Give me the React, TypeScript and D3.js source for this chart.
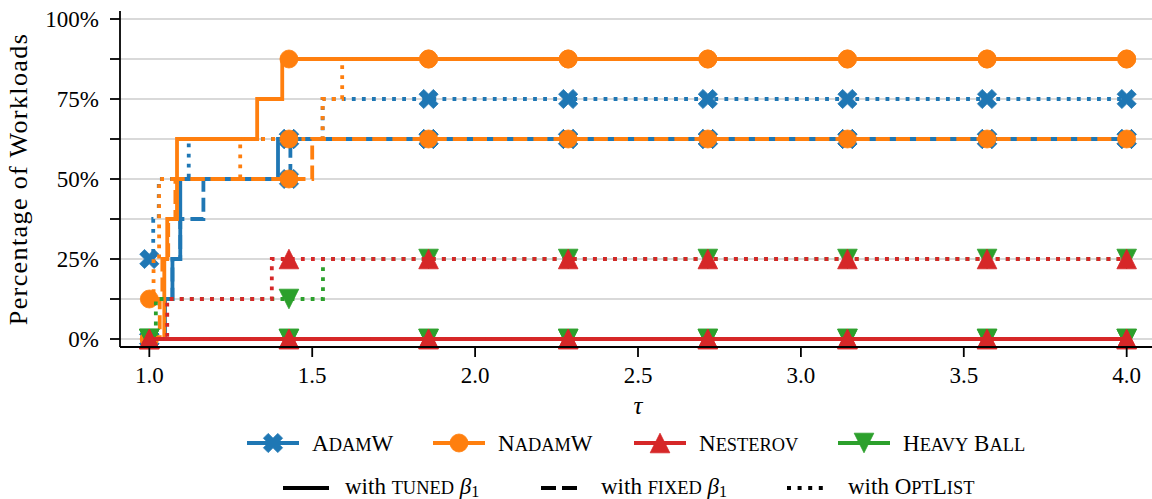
import React from "react";
import * as d3 from "d3";

const W = 1152;
const H = 499;

// τ values at which each profile carries a marker
const markerTaus = [1.0, 1.4286, 1.8571, 2.2857, 2.7143, 3.1429, 3.5714, 4.0];
const xTicks = [1.0, 1.5, 2.0, 2.5, 3.0, 3.5, 4.0];
const yMajorTicks = [0, 0.25, 0.5, 0.75, 1.0];
const yMinorTicks = [0.125, 0.375, 0.625, 0.875];
const yTickLabels = ["0%", "25%", "50%", "75%", "100%"];

// Performance profiles: [τ, fraction of workloads solved from this τ onwards]
const adamwTuned = [[1.0, 0], [1.048, 0.125], [1.071, 0.25], [1.095, 0.5], [1.395, 0.625]];
const adamwFixed = [[1.0, 0], [1.048, 0.125], [1.071, 0.25], [1.095, 0.375], [1.166, 0.5], [1.433, 0.625]];
const adamwOptList = [[1.0, 0.25], [1.012, 0.375], [1.029, 0.5], [1.121, 0.625], [1.532, 0.75]];
const nadamwTuned = [[1.0, 0], [1.046, 0.25], [1.055, 0.375], [1.085, 0.625], [1.331, 0.75], [1.408, 0.875]];
const nadamwFixed = [[1.0, 0], [1.032, 0.125], [1.04, 0.25], [1.058, 0.375], [1.08, 0.5], [1.5, 0.625]];
const nadamwOptList = [[1.0, 0.125], [1.013, 0.25], [1.03, 0.5], [1.279, 0.625], [1.532, 0.75], [1.592, 0.875]];
const nesterovTuned = [[1.0, 0]];
const nesterovFixed = [[1.0, 0]];
const nesterovOptList = [[1.0, 0], [1.055, 0.125], [1.376, 0.25]];
const heavyBallTuned = [[1.0, 0]];
const heavyBallFixed = [[1.0, 0]];
const heavyBallOptList = [[1.0, 0], [1.02, 0.125], [1.533, 0.25]];

const optimizers = ["AdamW", "NadamW", "Nesterov", "Heavy Ball"];
const variants = ["tuned", "fixed", "OptList"];

const BLUE = "#1f77b4";
const ORANGE = "#ff7f0e";
const GREEN = "#2ca02c";
const RED = "#d62728";

const LW = 3.8;
const DASH: Record<string, string | undefined> = {
  tuned: undefined,
  fixed: `${3.7 * LW} ${1.6 * LW}`,
  OptList: `${1 * LW} ${1.65 * LW}`,
};

const optStyle: Record<string, { color: string; marker: string }> = {
  AdamW: { color: BLUE, marker: "X" },
  NadamW: { color: ORANGE, marker: "o" },
  Nesterov: { color: RED, marker: "^" },
  "Heavy Ball": { color: GREEN, marker: "v" },
};

// drawing order (later on top)
const series = [
  { opt: "AdamW", variant: "tuned", steps: adamwTuned },
  { opt: "AdamW", variant: "fixed", steps: adamwFixed },
  { opt: "AdamW", variant: "OptList", steps: adamwOptList },
  { opt: "NadamW", variant: "tuned", steps: nadamwTuned },
  { opt: "NadamW", variant: "fixed", steps: nadamwFixed },
  { opt: "NadamW", variant: "OptList", steps: nadamwOptList },
  { opt: "Heavy Ball", variant: "tuned", steps: heavyBallTuned },
  { opt: "Heavy Ball", variant: "fixed", steps: heavyBallFixed },
  { opt: "Heavy Ball", variant: "OptList", steps: heavyBallOptList },
  { opt: "Nesterov", variant: "tuned", steps: nesterovTuned },
  { opt: "Nesterov", variant: "fixed", steps: nesterovFixed },
  { opt: "Nesterov", variant: "OptList", steps: nesterovOptList },
];

const FONT = "'Liberation Serif', 'Times New Roman', serif";

function xCrossPoints(half: number): string {
  const base = [
    [-1, -3], [1, -3], [1, -1], [3, -1], [3, 1], [1, 1],
    [1, 3], [-1, 3], [-1, 1], [-3, 1], [-3, -1], [-1, -1],
  ];
  const k = half / (4 / Math.SQRT2);
  return base
    .map(([a, b]) => [((a - b) / Math.SQRT2) * k, ((a + b) / Math.SQRT2) * k])
    .map((p) => p.join(","))
    .join(" ");
}

function Marker({ kind, cx, cy, color }: { kind: string; cx: number; cy: number; color: string }) {
  if (kind === "o") return <circle cx={cx} cy={cy} r={9} fill={color} stroke={color} strokeWidth={0.8} />;
  if (kind === "X")
    return (
      <polygon
        points={xCrossPoints(9.6)}
        transform={`translate(${cx},${cy})`}
        fill={color}
        stroke={color}
        strokeWidth={0.8}
        strokeLinejoin="miter"
      />
    );
  const s = 9.8;
  const pts = kind === "^" ? `0,${-s} ${-s},${s} ${s},${s}` : `0,${s} ${-s},${-s} ${s},${-s}`;
  return <polygon points={pts} transform={`translate(${cx},${cy})`} fill={color} stroke={color} strokeWidth={0.8} />;
}

// small-caps rendering: capitals at full size, lower-case letters as reduced capitals
function SmallCaps({ text }: { text: string }) {
  const runs: { s: string; small: boolean }[] = [];
  for (const ch of text) {
    const small = ch !== ch.toUpperCase();
    const last = runs[runs.length - 1];
    if (last && last.small === small) last.s += ch;
    else runs.push({ s: ch, small });
  }
  return (
    <>
      {runs.map((r, i) =>
        r.small ? (
          <tspan key={i} fontSize="0.8em">
            {r.s.toUpperCase()}
          </tspan>
        ) : (
          <tspan key={i}>{r.s}</tspan>
        )
      )}
    </>
  );
}

export default function App() {
  const x = d3.scaleLinear().domain([0.91, 4.09]).range([120, 1156]);
  const y = d3.scaleLinear().domain([-0.025, 1.025]).range([347, 11]);
  const line = d3
    .line<number[]>()
    .x((d) => x(d[0]))
    .y((d) => y(d[1]))
    .curve(d3.curveStepAfter);

  const valueAt = (steps: number[][], t: number) => {
    let v = steps[0][1];
    for (const [s, val] of steps) if (s <= t + 1e-9) v = val;
    return v;
  };
  const pathFor = (steps: number[][]) => line([...steps, [4.0, steps[steps.length - 1][1]]]) || "";

  const xLeft = 120;
  const xRight = 1156;
  const yBottom = 347;
  const yTop = 11;

  const legendOpt = [
    { name: optimizers[0], handle: 273, text: 312 },
    { name: optimizers[1], handle: 459, text: 498 },
    { name: optimizers[2], handle: 660, text: 699 },
    { name: optimizers[3], handle: 864, text: 903 },
  ];
  const legendVar = [
    { v: variants[0], handle: 306, text: 345 },
    { v: variants[1], handle: 561, text: 601 },
    { v: variants[2], handle: 807, text: 848 },
  ];

  return (
    <svg
      width={W}
      height={H}
      viewBox={`0 0 ${W} ${H}`}
      style={{ position: "absolute", left: 0, top: 0, background: "#fff" }}
      fontFamily={FONT}
    >
      <rect x={0} y={0} width={W} height={H} fill="#fff" />
      {/* horizontal grid */}
      {[...yMajorTicks, ...yMinorTicks].map((t) => (
        <line key={`g${t}`} x1={xLeft} x2={xRight} y1={y(t)} y2={y(t)} stroke="#cccccc" strokeWidth={1.3} />
      ))}

      {/* profiles */}
      <g>
        {series.map((s, i) => {
          const st = optStyle[s.opt];
          return (
            <g key={i}>
              <path
                d={pathFor(s.steps)}
                fill="none"
                stroke={st.color}
                strokeWidth={LW}
                strokeDasharray={DASH[s.variant]}
                strokeLinecap={s.variant === "tuned" ? "square" : "butt"}
                strokeLinejoin="miter"
              />
              {markerTaus.map((t, j) => (
                <Marker key={j} kind={st.marker} cx={x(t)} cy={y(valueAt(s.steps, t))} color={st.color} />
              ))}
            </g>
          );
        })}
      </g>

      {/* spines */}
      <line x1={xLeft} x2={xLeft} y1={yTop} y2={yBottom} stroke="#000" strokeWidth={1.8} />
      <line x1={xLeft} x2={xRight} y1={yBottom} y2={yBottom} stroke="#000" strokeWidth={1.8} />

      {/* y ticks */}
      {[...yMajorTicks, ...yMinorTicks].map((t) => (
        <line key={`yt${t}`} x1={xLeft - 10} x2={xLeft} y1={y(t)} y2={y(t)} stroke="#000" strokeWidth={1.8} />
      ))}
      {yMajorTicks.map((t, i) => (
        <text key={`yl${t}`} x={99} y={y(t) + 8} textAnchor="end" fontSize={23}>
          {yTickLabels[i]}
        </text>
      ))}

      {/* x ticks */}
      {xTicks.map((t) => (
        <g key={`xt${t}`}>
          <line x1={x(t)} x2={x(t)} y1={yBottom} y2={yBottom + 10} stroke="#000" strokeWidth={1.8} />
          <text x={x(t)} y={383} textAnchor="middle" fontSize={23}>
            {d3.format(".1f")(t)}
          </text>
        </g>
      ))}

      {/* axis titles */}
      <text x={(xLeft + xRight) / 2} y={414} textAnchor="middle" fontSize={25} fontStyle="italic">
        τ
      </text>
      <text
        transform={`translate(27,${(yTop + yBottom) / 2}) rotate(-90)`}
        textAnchor="middle"
        fontSize={26}
        letterSpacing={1.4}
      >
        Percentage of Workloads
      </text>

      {/* legend: optimizers */}
      {legendOpt.map((l) => {
        const st = optStyle[l.name];
        const cy = 443;
        return (
          <g key={l.name}>
            <line x1={l.handle - 26} x2={l.handle + 26} y1={cy} y2={cy} stroke={st.color} strokeWidth={LW} />
            <Marker kind={st.marker} cx={l.handle} cy={cy} color={st.color} />
            <text x={l.text} y={cy + 8} fontSize={23}>
              <SmallCaps text={l.name} />
            </text>
          </g>
        );
      })}

      {/* legend: variants */}
      {legendVar.map((l) => {
        const cy = 488;
        const dash = l.v === "tuned" ? undefined : l.v === "fixed" ? "15 6" : "4 6.6";
        const half = l.v === "tuned" ? 23 : 20;
        return (
          <g key={l.v}>
            <line
              x1={l.handle - half}
              x2={l.handle + half}
              y1={cy}
              y2={cy}
              stroke="#000"
              strokeWidth={LW}
              strokeDasharray={dash}
            />
            <text x={l.text} y={cy + 6} fontSize={23}>
              {"with "}
              {l.v === "OptList" ? (
                <SmallCaps text="OptList" />
              ) : (
                <>
                  <SmallCaps text={l.v} />
                  <tspan> </tspan>
                  <tspan fontStyle="italic">β</tspan>
                  <tspan fontSize="0.7em" dy={3}>
                    1
                  </tspan>
                </>
              )}
            </text>
          </g>
        );
      })}
    </svg>
  );
}
